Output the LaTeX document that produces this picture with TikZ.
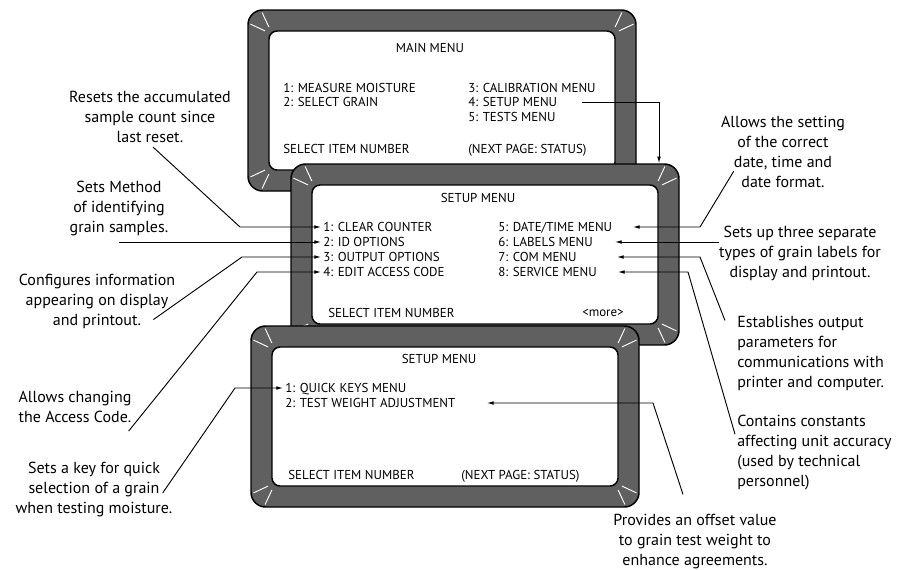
\documentclass[tikz,border=0pt]{standalone}
\usepackage{fontspec}
\setmainfont{PT Sans}
\usetikzlibrary{math,arrows.meta}
\definecolor{framegray}{RGB}{96,96,96}

\begin{document}
\begin{tikzpicture}[x=0.75pt,y=-0.75pt,
      frame/.style={draw=black,line width=1.1pt,fill=framegray,rounded corners=11pt,minimum width=\fw pt,minimum height=\fh pt,inner sep=0pt},
      glass/.style={draw=black,line width=1.1pt,fill=white,rounded corners=6pt,minimum width=\gw pt,minimum height=\gh pt,inner sep=0pt},
      bevel/.style={draw=white,line width=0.7pt},
      scr/.style={font=\fontsize{9.7}{11}\selectfont,inner sep=1.5pt,text depth=0pt,anchor=west},
      scrtitle/.style={scr,anchor=center},
      note/.style={font=\fontsize{12}{15}\selectfont,align=center,inner sep=0pt},
      noteleft/.style={note,align=left,anchor=west},
      arr/.style={-{Latex[length=5pt,width=2.8pt]},line width=0.7pt}]
      \tikzmath{\fw = 388*0.75; \fh = 181*0.75; \gw = 346*0.75; \gh = 139*0.75;}
      \useasboundingbox (0,0) rectangle (907,569);
      \foreach \n/\px/\py in {1/442/100.5,2/485/254.5,3/445/416.5} {
        \node[frame] (f\n) at (\px,\py) {};
        \node[glass] (g\n) at (\px,\py) {};
        \foreach \c/\dx/\dy/\a/\b in {north west/4/4/205/245,north east/-4/4/295/335,south east/-4/-4/25/65,south west/4/-4/115/155}
          \draw[bevel,shift={(g\n.\c)}] (\dx,\dy) ++(\a:8) -- ++(\a:16) (\dx,\dy) ++(\b:8) -- ++(\b:16);
      }
      \node[scrtitle] (mtitle) at (430,48) {MAIN MENU};
      \node[scr] (m1) at (281,88) {1: MEASURE MOISTURE};
      \node[scr] (m2) at (281,102) {2: SELECT GRAIN};
      \node[scr] (m3) at (466,88) {3: CALIBRATION MENU};
      \node[scr] (m4) at (466,102) {4: SETUP MENU};
      \node[scr] (m5) at (466,117) {5: TESTS MENU};
      \node[scr] (m6) at (281,149) {SELECT ITEM NUMBER};
      \node[scr] (m7) at (466,149) {(NEXT PAGE: STATUS)};
      \node[scrtitle] (ctitle) at (478,198) {SETUP MENU};
      \node[scr] (c1) at (321,227) {1: CLEAR COUNTER};
      \node[scr] (c2) at (321,242) {2: ID OPTIONS};
      \node[scr] (c3) at (321,257) {3: OUTPUT OPTIONS};
      \node[scr] (c4) at (321,272) {4: EDIT ACCESS CODE};
      \node[scr] (d5) at (496,227) {5: DATE/TIME MENU};
      \node[scr] (d6) at (496,242) {6: LABELS MENU};
      \node[scr] (d7) at (496,257) {7: COM MENU};
      \node[scr] (d8) at (496,272) {8: SERVICE MENU};
      \node[scr] (c9) at (326,313) {SELECT ITEM NUMBER};
      \node[scr,anchor=east] (more) at (626,313) {<more>};
      \node[scrtitle] (qtitle) at (439,359) {SETUP MENU};
      \node[scr] (q1) at (283,388) {1: QUICK KEYS MENU};
      \node[scr] (q2) at (283,403) {2: TEST WEIGHT ADJUSTMENT};
      \node[scr] (q3) at (286,475) {SELECT ITEM NUMBER};
      \node[scr] (q4) at (459,475) {(NEXT PAGE: STATUS)};
      \node[note] (resets) at (150,117) {Resets the accumulated\\sample count since\\last reset.};
      \node[note] (method) at (119,208) {Sets Method\\of identifying\\grain samples.};
      \node[note] (configures) at (97,301) {Configures information\\appearing on display\\and printout.};
      \node[note] (access) at (75,407) {Allows changing\\the Access Code.};
      \node[note] (quick) at (94,489) {Sets a key for quick\\selection of a grain\\when testing moisture.};
      \node[note] (datetime) at (783,152) {Allows the setting\\of the correct\\date, time and\\date format.};
      \node[note] (labels) at (800,253) {Sets up three separate\\types of grain labels for\\display and printout.};
      \node[noteleft] (establishes) at (737,353) {Establishes output\\parameters for\\communications with\\printer and computer.};
      \node[noteleft] (contains) at (737,453) {Contains constants\\affecting unit accuracy\\(used by technical\\personnel)};
      \node[note] (provides) at (695,542) {Provides an offset value\\to grain test weight to\\enhance agreements.};
      \draw[arr] (m4 -| 582,0) -- (m4 -| 659,0) -- (f2.north -| 659,0);
      \draw[arr] ([shift={(3,4)}]resets.south) -- (c1.west -| 240,0) -- (c1.west);
      \draw[arr] (method.south |- c2.west) -- (c2.west);
      \draw[arr] ([shift={(-22,-9)}]configures.south east) -- (c3.west -| 242,0) -- (c3.west);
      \draw[arr] ([shift={(-3,8)}]access.south east) -- (c4.west -| 257,0) -- (c4.west);
      \draw[arr] ([shift={(-10,4)}]quick.east) -- (q1.west -| 235,0) -- (q1.west);
      \draw[arr] ([shift={(13,-17)}]datetime.south west) -- (d5 -| 700,0) -- (d5 -| 633,0);
      \draw[arr] (labels.west |- d6) -- (d6 -| 615,0);
      \draw[arr] ([shift={(-12,5)}]establishes.north west) -- (d7 -| 700,0) -- (d7 -| 617,0);
      \draw[arr] ([shift={(-2,19)}]contains.north west) -- (d8 -| 688,0) -- (d8 -| 618,0);
      \draw[arr] ([shift={(-12,-20)}]provides.north) -- (q2 -| 653,0) -- (q2 -| 487,0);
    \end{tikzpicture}
\end{document}
